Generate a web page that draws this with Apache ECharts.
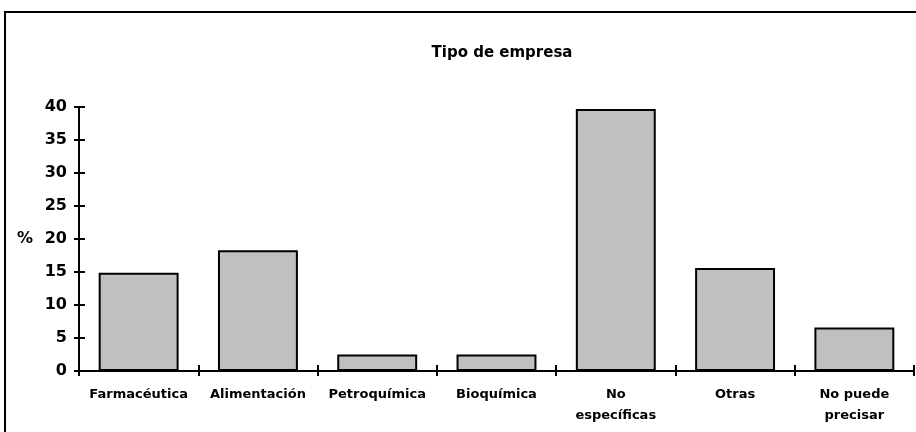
<!DOCTYPE html>
<html>
<head>
<meta charset="utf-8">
<script src="https://cdn.jsdelivr.net/npm/echarts@6/dist/echarts.min.js"></script>
<style>
  html, body { margin: 0; padding: 0; background: #fff; }
  #chart { width: 916px; height: 432px; }
</style>
</head>
<body>
<div id="chart"></div>
<script>
var categories = ['Farmacéutica', 'Alimentación', 'Petroquímica', 'Bioquímica', 'No\nespecíficas', 'Otras', 'No puede\nprecisar'];
var percentages = [14.9, 18.3, 2.5, 2.5, 39.7, 15.6, 6.6];
var yTicks = [0, 5, 10, 15, 20, 25, 30, 35, 40];

var font = 'DejaVu Sans, Verdana, sans-serif';
var chart = echarts.init(document.getElementById('chart'));

// ticks in the picture cross the axis line: a second, lineless axis is
// shifted inwards by a few pixels and draws longer outside ticks
var tickStyle = { color: '#000', width: 2 };

var option = {
    animation: false,
    title: {
        text: 'Tipo de empresa',
        left: 497,
        top: 41,
        textAlign: 'center',
        textStyle: { fontFamily: font, fontSize: 15, fontWeight: 'bold', color: '#000' }
    },
    graphic: [{
        type: 'rect',
        shape: { x: 5, y: 12, width: 940, height: 460 },
        style: { fill: 'none', stroke: '#000', lineWidth: 2 },
        silent: true
    }],
    grid: { left: 79, right: 2, top: 107, bottom: 61 },
    xAxis: [{
        type: 'category',
        data: categories,
        position: 'bottom',
        axisLine: { show: true, lineStyle: { color: '#000', width: 2 } },
        axisTick: { show: false },
        axisLabel: {
            interval: 0, margin: 13, color: '#000',
            fontFamily: font, fontSize: 13, fontWeight: 'bold', lineHeight: 21
        }
    }, {
        type: 'category',
        data: categories,
        position: 'bottom',
        offset: -6,
        axisLine: { show: false, onZero: false },
        axisTick: { show: true, length: 11, lineStyle: tickStyle },
        axisLabel: { show: false }
    }],
    yAxis: [{
        type: 'value',
        position: 'left',
        min: yTicks[0],
        max: yTicks[yTicks.length - 1],
        interval: 5,
        splitLine: { show: false },
        name: '%',
        nameLocation: 'middle',
        nameRotate: 0,
        nameGap: 46,
        nameTextStyle: { fontFamily: font, fontSize: 16, fontWeight: 'bold', color: '#000' },
        axisLine: { show: true, lineStyle: { color: '#000', width: 2 } },
        axisTick: { show: false },
        axisLabel: { margin: 12, color: '#000', fontFamily: font, fontSize: 16, fontWeight: 'bold' }
    }, {
        type: 'value',
        position: 'left',
        offset: -6,
        min: yTicks[0],
        max: yTicks[yTicks.length - 1],
        interval: 5,
        splitLine: { show: false },
        axisLine: { show: false, onZero: false },
        axisTick: { show: true, length: 11, lineStyle: tickStyle },
        axisLabel: { show: false }
    }],
    series: [{
        type: 'bar',
        data: percentages,
        barWidth: '67%',
        itemStyle: { color: '#c0c0c0', borderColor: '#000', borderWidth: 2 }
    }, {
        // empty series tied to the tick-only axes
        type: 'line',
        xAxisIndex: 1,
        yAxisIndex: 1,
        data: categories.map(function () { return null; }),
        silent: true
    }]
};
chart.setOption(option);
</script>
</body>
</html>
